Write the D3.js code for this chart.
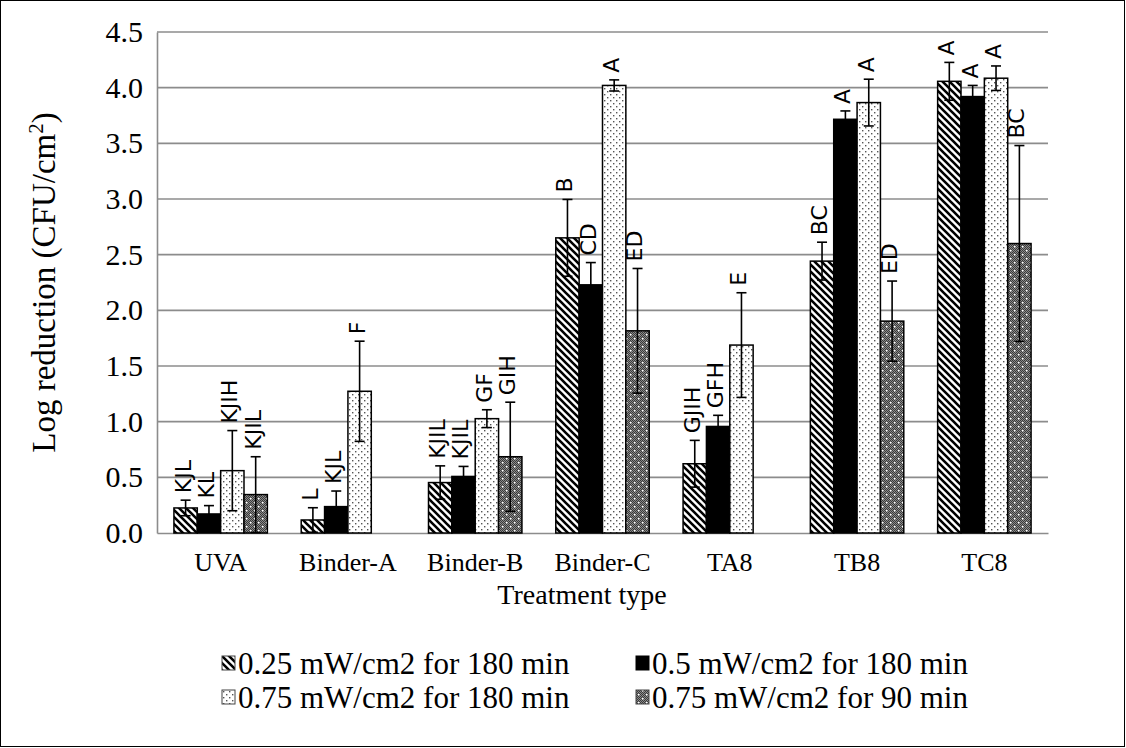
<!DOCTYPE html>
<html>
<head>
<meta charset="utf-8">
<script src="https://cdn.jsdelivr.net/npm/d3@7"></script>
<style>
  body { margin: 0; background: #fff; }
  svg { display: block; }
</style>
</head>
<body>
<div id="chart"></div>
<script>
// data
const categories = ['UVA', 'Binder-A', 'Binder-B', 'Binder-C', 'TA8', 'TB8', 'TC8']
const seriesNames = [
  '0.25 mW/cm2 for 180 min',
  '0.5 mW/cm2 for 180 min',
  '0.75 mW/cm2 for 180 min',
  '0.75 mW/cm2 for 90 min'
]
const low180 = [0.225, 0.117, 0.453, 2.651, 0.622, 2.442, 4.057]
const mid180 = [0.171, 0.237, 0.508, 2.229, 0.957, 3.716, 3.92]
const high180 = [0.56, 1.273, 1.027, 4.02, 1.688, 3.866, 4.085]
const high90 = [0.345, null, 0.685, 1.816, null, 1.903, 2.6]
const errLow180 = [0.07, 0.11, 0.15, 0.345, 0.21, 0.17, 0.17]
const errMid180 = [0.075, 0.14, 0.09, 0.2, 0.1, 0.075, 0.1]
const errHigh180 = [0.36, 0.45, 0.08, 0.05, 0.47, 0.21, 0.11]
const errHigh90 = [0.34, null, 0.49, 0.56, null, 0.36, 0.88]
const lettersLow180 = ['KJL', 'L', 'KJIL', 'B', 'GJIH', 'BC', 'A']
const lettersMid180 = ['KL', 'KJL', 'KJIL', 'CD', 'GFH', 'A', 'A']
const lettersHigh180 = ['KJIH', 'F', 'GF', 'A', 'E', 'A', 'A']
const lettersHigh90 = ['KJIL', '', 'GIH', 'ED', '', 'ED', 'BC']
const yTicks = [0, 0.5, 1, 1.5, 2, 2.5, 3, 3.5, 4, 4.5]

const W = 1126
const H = 748
const plot = { left: 157, right: 1048, top: 32, bottom: 533 }
const serif = "'Liberation Serif', 'Times New Roman', serif"
const sans = "'DejaVu Sans', Verdana, sans-serif"

const values = [low180, mid180, high180, high90]
const errors = [errLow180, errMid180, errHigh180, errHigh90]
const letters = [lettersLow180, lettersMid180, lettersHigh180, lettersHigh90]

const svg = d3.select('#chart').append('svg')
  .attr('width', W)
  .attr('height', H)

// fill patterns (Excel style)
const defs = svg.append('defs')

const p0 = defs.append('pattern')
  .attr('id', 'pat0')
  .attr('patternUnits', 'userSpaceOnUse')
  .attr('width', 7).attr('height', 7)
p0.append('rect').attr('width', 7).attr('height', 7).attr('fill', '#fff')
p0.append('path')
  .attr('d', 'M-2,-2 L9,9 M-9,-2 L2,9 M5,-2 L16,9')
  .attr('stroke', '#000').attr('stroke-width', 2.6)

const p2 = defs.append('pattern')
  .attr('id', 'pat2')
  .attr('patternUnits', 'userSpaceOnUse')
  .attr('width', 6).attr('height', 6)
p2.append('rect').attr('width', 6).attr('height', 6).attr('fill', '#fff')
p2.append('rect').attr('x', 1).attr('y', 1).attr('width', 1.4).attr('height', 1.4).attr('fill', '#555')
p2.append('rect').attr('x', 4).attr('y', 4).attr('width', 1.4).attr('height', 1.4).attr('fill', '#555')

const p3 = defs.append('pattern')
  .attr('id', 'pat3')
  .attr('patternUnits', 'userSpaceOnUse')
  .attr('width', 8).attr('height', 8)
p3.append('rect').attr('width', 8).attr('height', 8).attr('fill', '#8a8a8a')
for (let i = 0; i < 8; i += 2) {
  for (let j = 0; j < 8; j += 2) {
    p3.append('rect').attr('x', i).attr('y', j).attr('width', 1).attr('height', 1).attr('fill', '#3a3a3a')
    p3.append('rect').attr('x', i + 1).attr('y', j + 1).attr('width', 1).attr('height', 1).attr('fill', '#3a3a3a')
  }
}
p3.append('rect').attr('x', 2).attr('y', 2).attr('width', 1.5).attr('height', 1.5).attr('fill', '#fff')
p3.append('rect').attr('x', 6).attr('y', 6).attr('width', 1.5).attr('height', 1.5).attr('fill', '#fff')

const fills = ['url(#pat0)', '#000', 'url(#pat2)', 'url(#pat3)']

// outer frame
svg.append('rect')
  .attr('x', 0.5).attr('y', 0.5)
  .attr('width', W - 2).attr('height', H - 2)
  .attr('fill', 'none').attr('stroke', '#000').attr('stroke-width', 1)

const y = d3.scaleLinear().domain([0, 4.5]).range([plot.bottom, plot.top])
const x0 = d3.scaleBand()
  .domain(categories)
  .range([plot.left, plot.right])
  .paddingInner(0.266)
  .paddingOuter(0.133)
const x1 = d3.scaleBand()
  .domain(d3.range(seriesNames.length))
  .range([0, x0.bandwidth()])

// gridlines
svg.append('g')
  .selectAll('line')
  .data(yTicks.slice(1))
  .join('line')
  .attr('x1', plot.left).attr('x2', plot.right)
  .attr('y1', d => y(d)).attr('y2', d => y(d))
  .attr('stroke', '#8c8c8c').attr('stroke-width', 1.6)

// y axis
const yAxis = svg.append('g')
  .attr('transform', `translate(${plot.left},0)`)
  .call(d3.axisLeft(y).tickValues(yTicks).tickFormat(d3.format('.1f')).tickSize(0).tickPadding(14))
yAxis.select('.domain').attr('stroke', '#8c8c8c').attr('stroke-width', 1.6)
yAxis.selectAll('text')
  .attr('font-family', serif).attr('font-size', 30).attr('fill', '#000')

// x axis
const xAxis = svg.append('g')
  .attr('transform', `translate(0,${plot.bottom})`)
  .call(d3.axisBottom(x0).tickSize(0).tickPadding(20))
xAxis.select('.domain').attr('stroke', '#8c8c8c').attr('stroke-width', 1.6)
xAxis.selectAll('text')
  .attr('font-family', serif).attr('font-size', 26).attr('fill', '#000')

// bars
const cells = []
categories.forEach((c, i) => {
  values.forEach((vals, s) => {
    if (vals[i] != null) {
      cells.push({ cat: c, s: s, v: vals[i], e: errors[s][i], label: letters[s][i] })
    }
  })
})

svg.append('g')
  .selectAll('rect')
  .data(cells)
  .join('rect')
  .attr('x', d => x0(d.cat) + x1(d.s))
  .attr('y', d => y(d.v))
  .attr('width', x1.bandwidth())
  .attr('height', d => y(0) - y(d.v))
  .attr('fill', d => fills[d.s])
  .attr('stroke', '#000')
  .attr('stroke-width', 1.5)

// error bars
const eb = svg.append('g').attr('stroke', '#000').attr('stroke-width', 1.6)
cells.forEach(d => {
  const cx = x0(d.cat) + x1(d.s) + x1.bandwidth() / 2
  const top = y(d.v + d.e)
  const bot = y(Math.max(0, d.v - d.e))
  eb.append('line').attr('x1', cx).attr('x2', cx).attr('y1', top).attr('y2', bot)
  eb.append('line').attr('x1', cx - 5).attr('x2', cx + 5).attr('y1', top).attr('y2', top)
  eb.append('line').attr('x1', cx - 5).attr('x2', cx + 5).attr('y1', bot).attr('y2', bot)
})

// letter labels
svg.append('g')
  .selectAll('text')
  .data(cells.filter(d => d.label))
  .join('text')
  .attr('transform', d => {
    const cx = x0(d.cat) + x1(d.s) + x1.bandwidth() / 2 - 3
    return `translate(${cx},${y(d.v + d.e) - 7}) rotate(-90)`
  })
  .attr('dy', '0.36em')
  .attr('font-family', sans)
  .attr('font-size', 22)
  .attr('fill', '#000')
  .text(d => d.label)

// axis titles
const yTitle = svg.append('text')
  .attr('transform', `translate(55,${(plot.top + plot.bottom) / 2}) rotate(-90)`)
  .attr('text-anchor', 'middle')
  .attr('font-family', serif)
  .attr('font-size', 33)
yTitle.append('tspan').text('Log reduction (CFU/cm')
yTitle.append('tspan').attr('font-size', 21).attr('dy', -12).text('2')
yTitle.append('tspan').attr('dy', 12).text(')')

svg.append('text')
  .attr('x', 582)
  .attr('y', 604)
  .attr('text-anchor', 'middle')
  .attr('font-family', serif)
  .attr('font-size', 28)
  .text('Treatment type')

// legend
const legendPos = [[222, 663], [636, 663], [222, 697], [636, 697]]
const legend = svg.append('g')
seriesNames.forEach((name, s) => {
  const [lx, ly] = legendPos[s]
  legend.append('rect')
    .attr('x', lx).attr('y', ly - 7)
    .attr('width', 13).attr('height', 14)
    .attr('fill', fills[s])
    .attr('stroke', s === 1 ? '#000' : '#444')
    .attr('stroke-width', 1)
  legend.append('text')
    .attr('x', lx + 16)
    .attr('y', ly)
    .attr('dy', '0.35em')
    .attr('font-family', serif)
    .attr('font-size', 31)
    .text(name)
})
</script>
</body>
</html>
